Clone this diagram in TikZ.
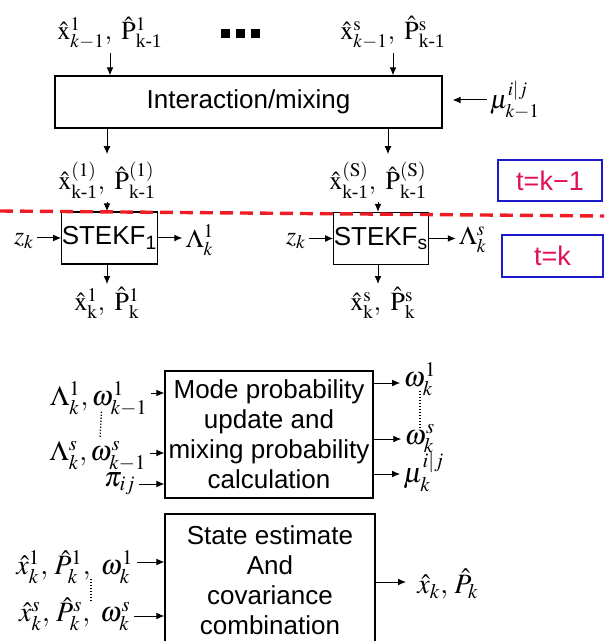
\documentclass[tikz,border=0pt]{standalone}
\usepackage{amsmath}
\usepackage{mathptmx}
\usepackage{fontspec}
\setmainfont{Liberation Serif}
\setsansfont{Liberation Sans}
\usetikzlibrary{arrows.meta}
\definecolor{tcol}{HTML}{E0105A}
\definecolor{cutred}{HTML}{EE1C24}
\definecolor{tblue}{HTML}{1A1AC8}
\tikzset{
  blk/.style={draw, line width=0.6pt, font=\sffamily\fontsize{13}{15}\selectfont, align=center, inner sep=0pt},
  lbl/.style={font=\fontsize{13}{15}\selectfont, inner sep=1.5pt},
  big/.style={font=\fontsize{14}{16}\selectfont, inner sep=1.5pt},
  tbox/.style={draw=tblue, line width=1pt, text=tcol, font=\sffamily\fontsize{13.5}{16}\selectfont},
  arr/.style={-{Latex[length=4pt,width=3.4pt]}, line width=0.5pt},
  vdots/.style={line width=0.7pt, dash pattern=on 0.6pt off 0.9pt, shorten <=-4pt, shorten >=-4pt},
  cut/.style={draw=cutred, line width=1.7pt, dash pattern=on 6.5pt off 3.5pt}
}
\newcommand{\km}{\text{k-1}}
\begin{document}
\begin{tikzpicture}[x=0.5pt, y=-0.5pt]
  \useasboundingbox (0,0) rectangle (604,641);
  % interaction / mixing
  \node[blk, minimum width=193.5pt, minimum height=26pt] (mix) at (248.5,102) {Interaction/mixing};
  \node[lbl] (xp1) at (110,33) {$\hat{\mathrm{x}}^1_{k-1},\ \hat{\mathrm{P}}^1_{\km}$};
  \node (dots) at (240,34) {\rule{4.5pt}{4.5pt}\hspace{3pt}\rule{4.5pt}{4.5pt}\hspace{3pt}\rule{4.5pt}{4.5pt}};
  \node[lbl] (xps) at (393,33) {$\hat{\mathrm{x}}^{\mathrm{s}}_{k-1},\ \hat{\mathrm{P}}^{\mathrm{s}}_{\km}$};
  \node[lbl] (mu1) at (515,100) {$\mu^{i|j}_{k-1}$};
  \draw[arr] (xp1.south) -- (xp1.south |- mix.north);
  \draw[arr] (xps.south) -- (xps.south |- mix.north);
  \draw[arr, shorten >=5pt] (mu1.west) -- (mu1.west -| mix.east);
  % the two filters
  \node[lbl] (xm1) at (107,180) {$\hat{\mathrm{x}}^{(1)}_{\km},\ \hat{\mathrm{P}}^{(1)}_{\km}$};
  \node[lbl] (xms) at (378,180) {$\hat{\mathrm{x}}^{(\mathrm{S})}_{\km},\ \hat{\mathrm{P}}^{(\mathrm{S})}_{\km}$};
  \draw[arr] (mix.south -| xm1) -- ([yshift=2pt]xm1.north);
  \draw[arr] ([xshift=5pt]mix.south -| xms) -- ([xshift=5pt,yshift=2pt]xms.north);
  \node[blk, minimum width=45.5pt, minimum height=26pt] (st1) at (109.5,238) {STEKF\textsubscript{1}};
  \node[blk, minimum width=46pt, minimum height=26pt] (sts) at (381,238.5) {STEKF\textsubscript{s}};
  \draw[arr] (xm1.south) -- (xm1.south |- st1.north);
  \draw[arr] (xms.south) -- (xms.south |- sts.north);
  \node[lbl] (z1) at (24,241) {$z_k$};
  \node[lbl] (zs) at (296,241) {$z_k$};
  \node[lbl] (lam1) at (200,240) {$\Lambda^1_k$};
  \node[lbl] (lams) at (473,240) {$\Lambda^s_k$};
  \draw[arr] (z1.east |- st1) -- (st1.west);
  \draw[arr] (zs.east |- sts) -- (sts.west);
  \draw[arr] (st1.east) -- (st1.east -| lam1.west);
  \draw[arr] (sts.east) -- (sts.east -| lams.west);
  \node[lbl] (xk1) at (107,303) {$\hat{\mathrm{x}}^1_{\mathrm{k}},\ \hat{\mathrm{P}}^1_{\mathrm{k}}$};
  \node[lbl] (xks) at (383,303) {$\hat{\mathrm{x}}^{\mathrm{s}}_{\mathrm{k}},\ \hat{\mathrm{P}}^{\mathrm{s}}_{\mathrm{k}}$};
  \draw[arr] (xm1.south |- st1.south) -- (xm1.south |- xk1.north);
  \draw[arr] (xms.south |- sts.south) -- (xms.south |- xks.north);
  % time split
  \draw[cut] (0,211) -- (604,216);
  \node[tbox, minimum width=52pt, minimum height=20.5pt] (tk1) at (550,180.5) {t=k−1};
  \node[tbox, minimum width=50.5pt, minimum height=21pt] (tk) at (552.5,256) {t=k};
  % mode probability
  \node[blk, minimum width=104pt, minimum height=63.5pt] (mode) at (269,434.5)
    {Mode probability\\update and\\mixing probability\\calculation};
  \node[big] (in1) at (99,399) {$\Lambda^1_k,\omega^1_{k-1}$};
  \node[big] (in2) at (98,456) {$\Lambda^s_k,\omega^s_{k-1}$};
  \node[big] (pij) at (120,484) {$\pi_{ij}$};
  \draw[arr] ([yshift=3pt]in1.east) -- ([yshift=3pt]in1.east -| mode.west);
  \draw[arr] ([yshift=1.5pt]in2.east) -- ([yshift=1.5pt]in2.east -| mode.west);
  \draw[arr] (pij.east) -- (pij.east -| mode.west);
  \draw[vdots, shorten >=0pt] ([xshift=1pt]in1.south) -- ([xshift=1pt]in2.north);
  \node[big] (om1) at (420,379) {$\omega^1_k$};
  \node[big] (oms) at (420,439) {$\omega^s_k$};
  \node[big] (mu2) at (424,472) {$\mu^{i|j}_k$};
  \draw[arr] ([yshift=-2pt]om1.west -| mode.east) -- ([yshift=-2pt]om1.west);
  \draw[arr] (oms.west -| mode.east) -- (oms.west);
  \draw[arr] ([yshift=-1pt]mu2.west -| mode.east) -- ([yshift=-1pt]mu2.west);
  \draw[vdots] (om1.south) -- (oms.north);
  % state estimate
  \node[blk, minimum width=105pt, minimum height=66pt] (state) at (270,580)
    {State estimate\\And\\covariance\\combination};
  \node[big] (sin1) at (75,567) {$\hat{x}^1_k,\,\hat{P}^1_k,\ \omega^1_k$};
  \node[big] (sin2) at (75,614) {$\hat{x}^s_k,\,\hat{P}^s_k,\ \omega^s_k$};
  \draw[arr] ([yshift=2.5pt]sin1.east) -- ([yshift=2.5pt]sin1.east -| state.west);
  \draw[arr] ([yshift=-1pt]sin2.east) -- ([yshift=-1pt]sin2.east -| state.west);
  \draw[vdots] ([xshift=8pt]sin1.south) -- ([xshift=8pt]sin2.north);
  \node[big] (xout) at (448,584) {$\hat{x}_k,\,\hat{P}_k$};
  \draw[arr, shorten >=4pt] ([yshift=1pt]xout.west -| state.east) -- ([yshift=1pt]xout.west);
\end{tikzpicture}
\end{document}
